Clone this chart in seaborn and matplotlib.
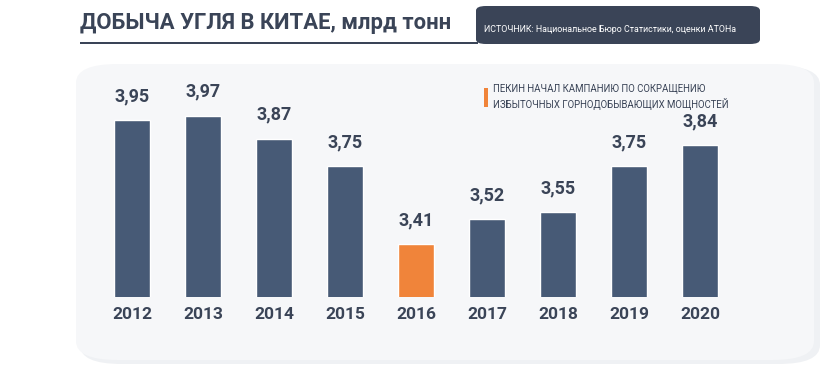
import matplotlib
matplotlib.use("Agg")
import matplotlib.pyplot as plt
from matplotlib.patches import FancyBboxPatch, Rectangle
import seaborn as sns
import pandas as pd

years = ["2012", "2013", "2014", "2015", "2016", "2017", "2018", "2019", "2020"]
output = [3.95, 3.97, 3.87, 3.75, 3.41, 3.52, 3.55, 3.75, 3.84]
labels = ["3,95", "3,97", "3,87", "3,75", "3,41", "3,52", "3,55", "3,75", "3,84"]
highlight = "2016"

TITLE = "ДОБЫЧА УГЛЯ В КИТАЕ, млрд тонн"
SOURCE = "ИСТОЧНИК: Национальное Бюро Статистики, оценки АТОНа"
NOTE = "ПЕКИН НАЧАЛ КАМПАНИЮ ПО СОКРАЩЕНИЮ\nИЗБЫТОЧНЫХ ГОРНОДОБЫВАЮЩИХ МОЩНОСТЕЙ"

NAVY = "#475a76"
ORANGE = "#f0843a"
DARK = "#3a4457"

sns.set_theme(style="white")
plt.rcParams["font.family"] = ["Roboto", "DejaVu Sans"]

df = pd.DataFrame({"year": years, "value": output})
palette = {y: (ORANGE if y == highlight else NAVY) for y in years}

fig = plt.figure(figsize=(8.32, 3.77), dpi=100)
fig.patch.set_facecolor("white")

W, H = 832, 377
def fx(px): return px / W
def fy(py): return 1 - py / H

# background panel with soft shadow
fig.patches.append(FancyBboxPatch((fx(80), fy(364)), fx(740), (364 - 66) / H,
                                  boxstyle="round,pad=0,rounding_size=0.05", transform=fig.transFigure,
                                  facecolor="#eff1f4", edgecolor="none", zorder=0))
fig.patches.append(FancyBboxPatch((fx(76), fy(360)), fx(738), (360 - 64) / H,
                                  boxstyle="round,pad=0,rounding_size=0.05", transform=fig.transFigure,
                                  facecolor="#f6f7f9", edgecolor="none", zorder=0))

# header
fig.text(fx(80), fy(23), TITLE, fontsize=15.8, fontweight="bold", color=DARK, va="center", ha="left")
fig.patches.append(Rectangle((fx(80), fy(44)), fx(398), 2.5 / H, transform=fig.transFigure,
                             facecolor=DARK, edgecolor="none"))
fig.patches.append(FancyBboxPatch((fx(476), fy(44)), fx(284), 38 / H,
                                  boxstyle="round,pad=0,rounding_size=0.012", transform=fig.transFigure,
                                  facecolor=DARK, edgecolor="none"))
fig.text(fx(484), fy(30), SOURCE, fontsize=6.4, color="white", va="center", ha="left")

# chart
ax = fig.add_axes([fx(96.5), fy(297), fx(639), (297 - 65) / H])
ax.set_zorder(2)
ax.set_facecolor("none")
sns.barplot(data=df, x="year", y="value", hue="year", palette=palette, legend=False,
            width=0.5, ax=ax, saturation=1)
ax.set_ylim(3.18, 4.19)
ax.set_xlim(-0.5, len(years) - 0.5)
for i, (v, lab) in enumerate(zip(output, labels)):
    ax.text(i, v + 0.065, lab, ha="center", va="bottom", fontsize=13, fontweight="bold", color=DARK)
ax.set_yticks([])
ax.set_xlabel("")
ax.set_ylabel("")
ax.tick_params(axis="x", length=0, pad=7)
for t in ax.get_xticklabels():
    t.set_fontsize(12.5)
    t.set_fontweight("bold")
    t.set_color(DARK)
for s in ax.spines.values():
    s.set_visible(False)

# annotation
fig.patches.append(Rectangle((fx(484), fy(107)), fx(4), 19 / H, transform=fig.transFigure,
                             facecolor=ORANGE, edgecolor="none"))
fig.text(fx(493), fy(97), NOTE, fontsize=6.9, color=DARK, va="center", ha="left", linespacing=1.4)

fig.savefig("out.png", dpi=100, facecolor="white")
